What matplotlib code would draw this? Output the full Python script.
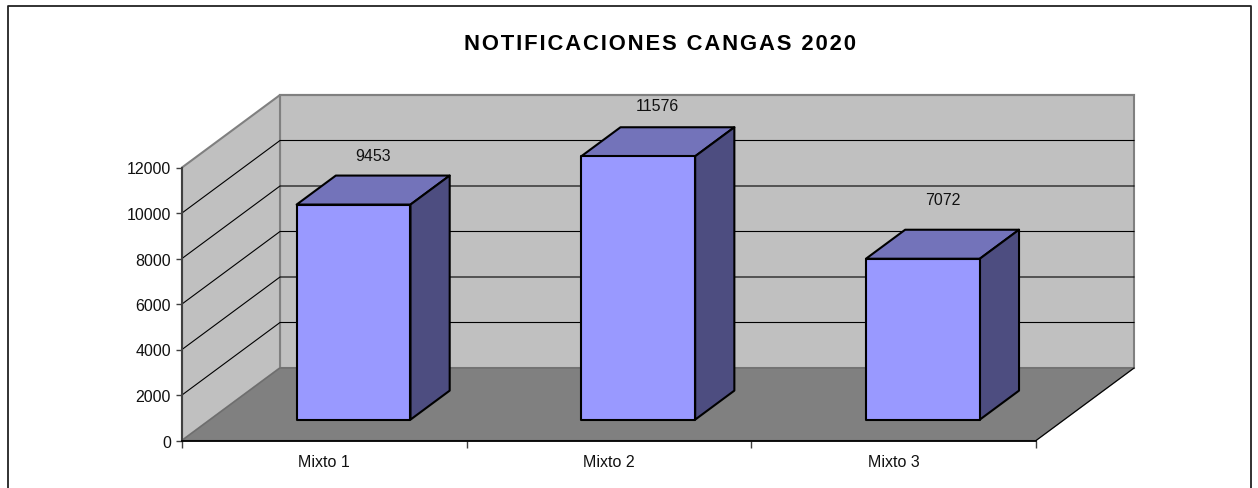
import matplotlib
matplotlib.use('Agg')
import matplotlib.pyplot as plt
from matplotlib.patches import Polygon
from matplotlib.lines import Line2D

categories = ['Mixto 1', 'Mixto 2', 'Mixto 3']
values = [9453, 11576, 7072]
y_ticks = [0, 2000, 4000, 6000, 8000, 10000, 12000]
title = 'NOTIFICACIONES CANGAS 2020'
label_offsets = [35, 36.5, 45]

W, H = 1258, 489
# front plane of the 3d box, in pixels
left, right, bottom, top = 182, 1036, 441.5, 168.5
ymax = 12000
# how far the back wall is shifted from the front plane, in data units
depth_x = 98 / (right - left) * 3
depth_y = 72.5 / (bottom - top) * ymax

plt.rcParams['font.family'] = ['Liberation Sans', 'DejaVu Sans']


def spaced(s, sep='\u200a'):
    return sep.join(s)


def pt(x, y, d):
    return (x + d * depth_x, y + d * depth_y)


fig = plt.figure(figsize=(W / 100, H / 100), dpi=100)
ax = fig.add_axes([left / W, 1 - bottom / H, (right - left) / W, (bottom - top) / H])
ax.set_xlim(0, 3)
ax.set_ylim(0, ymax)
ax.patch.set_visible(False)

# walls and floor
ax.add_patch(Polygon([pt(0, 0, 1), pt(3, 0, 1), pt(3, ymax, 1), pt(0, ymax, 1)], fc='#c0c0c0', ec='#808080', lw=1.5, clip_on=False, zorder=1))
ax.add_patch(Polygon([pt(0, 0, 0), pt(0, 0, 1), pt(0, ymax, 1), pt(0, ymax, 0)], fc='#c0c0c0', ec='#808080', lw=1.5, clip_on=False, zorder=1))
ax.add_patch(Polygon([pt(0, 0, 0), pt(3, 0, 0), pt(3, 0, 1), pt(0, 0, 1)], fc='#808080', ec='#6e6e6e', lw=1, clip_on=False, zorder=1.5))

# gridlines go along the side wall and the back wall
for t in y_ticks[1:-1]:
    a, b, c = pt(0, t, 0), pt(0, t, 1), pt(3, t, 1)
    ax.plot([a[0], b[0], c[0]], [a[1], b[1], c[1]], color='black', lw=0.8, clip_on=False, zorder=1.2)
a, b = pt(0, ymax, 1), pt(3, ymax, 1)
ax.plot([a[0], b[0]], [a[1], b[1]], color='#808080', lw=1.5, clip_on=False, zorder=1.3)
a, b = pt(3, 0, 0), pt(3, 0, 1)
ax.plot([a[0], b[0]], [a[1], b[1]], color='black', lw=0.8, clip_on=False, zorder=1.6)

# bars
bar_w = 0.40
d0, d1 = 0.288, 0.688
for i, v in enumerate(values):
    x0 = i + 0.5 - bar_w / 2 + 0.0035
    x1 = x0 + bar_w
    ax.add_patch(Polygon([pt(x0, v, d0), pt(x1, v, d0), pt(x1, v, d1), pt(x0, v, d1)], fc='#7373ba', ec='black', lw=1.5, joinstyle='round', clip_on=False, zorder=3))
    ax.add_patch(Polygon([pt(x1, 0, d0), pt(x1, 0, d1), pt(x1, v, d1), pt(x1, v, d0)], fc='#4d4d80', ec='black', lw=1.5, joinstyle='round', clip_on=False, zorder=3))
    ax.add_patch(Polygon([pt(x0, 0, d0), pt(x1, 0, d0), pt(x1, v, d0), pt(x0, v, d0)], fc='#9999ff', ec='black', lw=1.5, joinstyle='round', clip_on=False, zorder=4))
    ax.annotate(str(v), pt((x0 + x1) / 2, v, (d0 + d1) / 2), xytext=(0, label_offsets[i] * 0.72), textcoords='offset points',
                ha='center', va='center', fontsize=11.5, color='#111111', zorder=5, annotation_clip=False)

# axes
for s in ['top', 'right']:
    ax.spines[s].set_visible(False)
ax.spines['left'].set_color('#404040')
ax.spines['left'].set_linewidth(1.5)
ax.spines['bottom'].set_color('black')
ax.spines['bottom'].set_linewidth(1.3)
ax.spines['left'].set_zorder(6)
ax.spines['bottom'].set_zorder(6)
ax.set_yticks(y_ticks)
ax.set_yticklabels([str(t) for t in y_ticks], fontsize=11.5, color='#111111')
ax.tick_params(axis='y', length=4, width=1, color='#404040', pad=4)
ax.set_xticks([0, 1, 2, 3])
ax.set_xticklabels([])
ax.tick_params(axis='x', length=5, width=1, color='#404040')
ax.set_xticks([0.5, 1.5, 2.5], minor=True)
ax.set_xticklabels(categories, minor=True, fontsize=11.5, color='#111111')
ax.tick_params(axis='x', which='minor', length=0, pad=10)

fig.text(660.5 / W, 1 - 45 / H, spaced(title), ha='center', va='center', fontsize=15.8, fontweight='bold', color='black')

# chart border, no line at the bottom
fig.add_artist(Line2D([7.5 / W, 7.5 / W, 1250.5 / W, 1250.5 / W], [0, 1 - 6.5 / H, 1 - 6.5 / H, 0], color='#222222', lw=1.3))

fig.savefig('out.png', dpi=100)
